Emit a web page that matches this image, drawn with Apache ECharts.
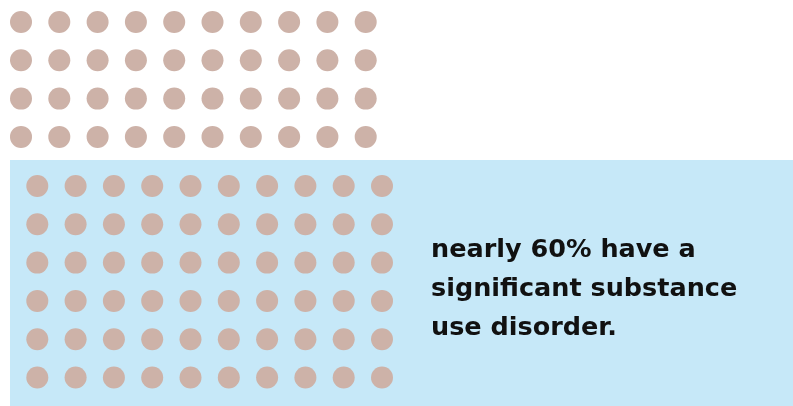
<!DOCTYPE html>
<html>
<head>
<meta charset="utf-8">
<script src="https://cdn.jsdelivr.net/npm/echarts@6/dist/echarts.min.js"></script>
<style>html,body{margin:0;padding:0;background:#fff}#c{width:793px;height:406px}</style>
</head>
<body>
<div id="c"></div>
<script>
// Data
const totalDots = 100;
const highlightedDots = 60;      // share with a significant substance use disorder
const dotsPerRow = 10;
const labelLines = ['nearly 60% have a', 'significant substance', 'use disorder.'];

// Build waffle cells (column, row) from the counts
const otherDots = totalDots - highlightedDots;
const topCells = [];
for (let i = 0; i < otherDots; i++) topCells.push([i % dotsPerRow, Math.floor(i / dotsPerRow)]);
const bottomCells = [];
for (let i = 0; i < highlightedDots; i++) bottomCells.push([i % dotsPerRow, Math.floor(i / dotsPerRow)]);
const topRows = Math.ceil(otherDots / dotsPerRow);
const bottomRows = Math.ceil(highlightedDots / dotsPerRow);

const step = 38.3;
const dotColor = '#cdb2a8';

const chart = echarts.init(document.getElementById('c'), null, {renderer: 'canvas'});
const hiddenAxis = {show: false};
chart.setOption({
  animation: false,
  backgroundColor: '#ffffff',
  grid: [
    {left: 21 - step / 2, top: 22 - step / 2, width: step * dotsPerRow, height: step * topRows},
    {left: 37.3 - step / 2, top: 186 - step / 2, width: step * dotsPerRow, height: step * bottomRows}
  ],
  xAxis: [
    Object.assign({type: 'value', gridIndex: 0, min: -0.5, max: dotsPerRow - 0.5}, hiddenAxis),
    Object.assign({type: 'value', gridIndex: 1, min: -0.5, max: dotsPerRow - 0.5}, hiddenAxis)
  ],
  yAxis: [
    Object.assign({type: 'value', gridIndex: 0, min: -0.5, max: topRows - 0.5, inverse: true}, hiddenAxis),
    Object.assign({type: 'value', gridIndex: 1, min: -0.5, max: bottomRows - 0.5, inverse: true}, hiddenAxis)
  ],
  graphic: [
    {type: 'rect', z: -10, silent: true, shape: {x: 10, y: 160, width: 783, height: 246}, style: {fill: '#c6e8f8'}},
    {
      type: 'text', z: 10, x: 431, y: 231,
      style: {
        text: labelLines.join('\n'),
        font: 'bold 25.5px "DejaVu Sans"',
        fill: '#111111',
        lineHeight: 39,
        verticalAlign: 'top'
      }
    }
  ],
  series: [
    {type: 'scatter', xAxisIndex: 0, yAxisIndex: 0, symbol: 'circle', symbolSize: 22,
     itemStyle: {color: dotColor, opacity: 1}, data: topCells, silent: true},
    {type: 'scatter', xAxisIndex: 1, yAxisIndex: 1, symbol: 'circle', symbolSize: 22,
     itemStyle: {color: dotColor, opacity: 1}, data: bottomCells, silent: true}
  ]
});
</script>
</body>
</html>
